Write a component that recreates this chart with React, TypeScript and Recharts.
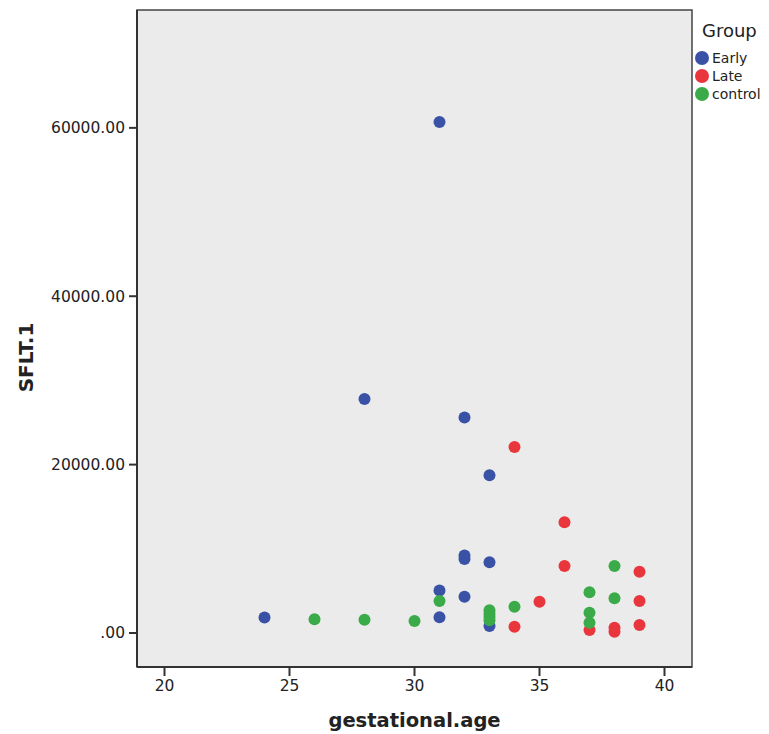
import {
  ScatterChart,
  Scatter,
  XAxis,
  YAxis,
  CartesianGrid,
  ReferenceArea,
  Label,
} from "recharts";

// gestational age (weeks) and sFlt-1 per group
const earlyAge = [24, 28, 31, 31, 31, 32, 32, 32, 32, 33, 33, 33];
const earlySflt = [1850, 27800, 60700, 5050, 1860, 25600, 9200, 8800, 4300, 18750, 8400, 830];

const lateAge = [34, 34, 35, 36, 36, 37, 38, 38, 39, 39, 39];
const lateSflt = [22100, 750, 3720, 13150, 7960, 360, 630, 150, 7280, 3800, 950];

const controlAge = [26, 28, 30, 31, 33, 33, 33, 33, 34, 37, 37, 37, 38, 38];
const controlSflt = [1630, 1580, 1430, 3800, 2700, 2300, 1900, 1500, 3130, 4830, 2400, 1220, 7960, 4120];

const xTicks = [20, 25, 30, 35, 40];
const yTicks = [0, 20000, 40000, 60000];

const groups = [
  { name: "Early", color: "#3a52a6", ages: earlyAge, values: earlySflt },
  { name: "Late", color: "#e9363d", ages: lateAge, values: lateSflt },
  { name: "control", color: "#3aab48", ages: controlAge, values: controlSflt },
];

const FONT = "'DejaVu Sans', Verdana, sans-serif";
const X_DOMAIN: [number, number] = [18.9, 41.1];
const Y_DOMAIN: [number, number] = [-4040, 74000];

const fmtY = (v: number) => (v === 0 ? ".00" : v.toFixed(2));

const dot = (color: string) => (props: any) =>
  <circle cx={props.cx} cy={props.cy} r={6} fill={color} />;

export default function App() {
  return (
    <div style={{ position: "absolute", left: 0, top: 0, width: 769, height: 734, background: "#fff" }}>
      <ScatterChart
        width={769}
        height={734}
        margin={{ top: 10, right: 77, bottom: 0, left: 0 }}
        style={{ fontFamily: FONT }}
      >
        <CartesianGrid fill="#ebebec" horizontal={false} vertical={false} />
        <XAxis
          type="number"
          dataKey="x"
          domain={X_DOMAIN}
          allowDataOverflow
          ticks={xTicks}
          height={67}
          tickSize={9}
          tickMargin={4}
          tick={{ fill: "#222", fontSize: 15.5 }}
          axisLine={{ stroke: "#333", strokeWidth: 2 }}
          tickLine={{ stroke: "#333", strokeWidth: 2 }}
        >
          <Label
            content={({ viewBox }: any) => (
              <text
                x={viewBox.x + viewBox.width / 2}
                y={viewBox.y + 60}
                textAnchor="middle"
                fontSize={19.5}
                fontWeight="bold"
                fill="#222"
                fontFamily={FONT}
              >
                gestational.age
              </text>
            )}
          />
        </XAxis>
        <YAxis
          type="number"
          dataKey="y"
          domain={Y_DOMAIN}
          allowDataOverflow
          ticks={yTicks}
          width={137}
          tickSize={8}
          tickMargin={4}
          tickFormatter={fmtY}
          tick={{ fill: "#222", fontSize: 15.5 }}
          axisLine={{ stroke: "#333", strokeWidth: 2 }}
          tickLine={{ stroke: "#333", strokeWidth: 2 }}
        >
          <Label
            content={({ viewBox }: any) => {
              const cx = 26;
              const cy = viewBox.y + viewBox.height / 2 + 19;
              return (
                <text
                  x={cx}
                  y={cy}
                  transform={`rotate(-90 ${cx} ${cy})`}
                  textAnchor="middle"
                  dominantBaseline="central"
                  fontSize={20}
                  fontWeight="bold"
                  fill="#222"
                  fontFamily={FONT}
                >
                  SFLT.1
                </text>
              );
            }}
          />
        </YAxis>
        <ReferenceArea
          x1={X_DOMAIN[0]}
          x2={X_DOMAIN[1]}
          y1={Y_DOMAIN[0]}
          y2={Y_DOMAIN[1]}
          fill="none"
          stroke="#444"
          strokeWidth={1.5}
        />
        {groups.map((g) => (
          <Scatter
            key={g.name}
            name={g.name}
            data={g.ages.map((a, i) => ({ x: a, y: g.values[i] }))}
            fill={g.color}
            shape={dot(g.color)}
            isAnimationActive={false}
          />
        ))}
      </ScatterChart>
      <div
        style={{
          position: "absolute",
          left: 695,
          top: 20,
          fontFamily: FONT,
          color: "#222",
        }}
      >
        <div style={{ fontSize: 18, lineHeight: "22px", marginLeft: 7, marginBottom: 7 }}>Group</div>
        {groups.map((g) => (
          <div key={g.name} style={{ display: "flex", alignItems: "center", height: 18, fontSize: 14 }}>
            <span
              style={{
                display: "inline-block",
                width: 14,
                height: 14,
                borderRadius: "50%",
                background: g.color,
                marginRight: 3,
              }}
            />
            {g.name}
          </div>
        ))}
      </div>
    </div>
  );
}
